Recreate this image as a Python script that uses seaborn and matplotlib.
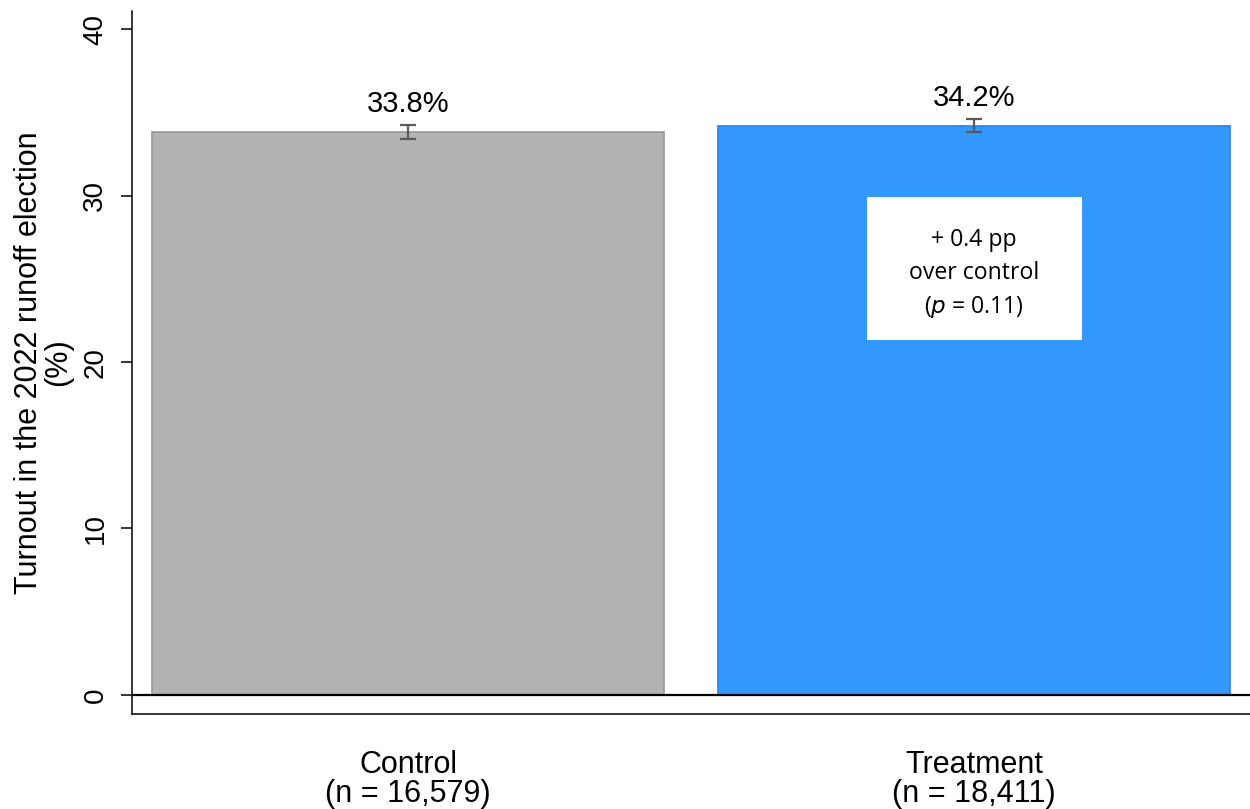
import matplotlib
matplotlib.use("Agg")
import matplotlib.pyplot as plt
import seaborn as sns
import pandas as pd
from matplotlib.patches import Rectangle

categories = ["Control", "Treatment"]
sample_sizes = ["16,579", "18,411"]
turnout = [33.8, 34.2]
ci_half = [0.42, 0.40]
bar_colors = ["#b3b3b3", "#3399ff"]
edge_colors = ["#9a9a9a", "#1f85ec"]
yticks = [0, 10, 20, 30, 40]
annotation_lines = ["+ 0.4 pp", "over control", "($\\it{p}$ = 0.11)"]

sns.set_theme(style="white")
plt.rcParams['font.family'] = ['Liberation Sans', 'DejaVu Sans']
plt.rcParams.update({"text.color": "black", "axes.labelcolor": "black",
                     "xtick.color": "black", "ytick.color": "black"})

df = pd.DataFrame({"group": categories, "turnout": turnout})

fig = plt.figure(figsize=(12.5, 8.09), dpi=100)
ax = fig.add_axes([0.1056, 0.1174, 0.8944, 0.869])

sns.barplot(data=df, x="group", y="turnout", hue="group", palette=bar_colors,
            width=0.906, legend=False, ax=ax, errorbar=None, saturation=1)
for patch, ec in zip(ax.patches, edge_colors):
    patch.set_edgecolor(ec)
    patch.set_linewidth(1.2)

ax.errorbar(range(len(categories)), turnout, yerr=ci_half, fmt="none",
            ecolor="#5a5a5a", elinewidth=1.6, capsize=6, capthick=1.6, zorder=5)

for i, v in enumerate(turnout):
    ax.text(i, v + ci_half[i] + 0.45, f"{v:.1f}%", ha="center", va="bottom", fontsize=21)

ax.axhline(0, color="black", lw=1.6, zorder=6)

# annotation box
ax.add_patch(Rectangle((0.811, 21.35), 0.38, 8.55, facecolor="white", edgecolor="none", zorder=7))
ax.text(1.0, 25.3, "\n".join(annotation_lines), ha="center", va="center",
        fontsize=16.6, family=["Open Sans", "DejaVu Sans"], linespacing=1.47, zorder=8)

ax.set_xlim(-0.488, 1.488)
ax.set_ylim(-1.15, 41.1)
ax.set_yticks(yticks)
ax.set_yticklabels([str(t) for t in yticks], rotation=90, va="center", fontsize=20)
ax.set_xticks(range(len(categories)))
ax.set_xticklabels([f"{c}\n(n = {n})" for c, n in zip(categories, sample_sizes)],
                   fontsize=22, linespacing=0.95)
ax.tick_params(axis="x", length=0, pad=26)
ax.tick_params(axis="y", length=8, width=1.1, pad=9, left=True, color="black")
ax.set_xlabel("")
ax.set_ylabel("Turnout in the 2022 runoff election\n(%)", fontsize=22, labelpad=7,
              linespacing=0.95)

for s in ["top", "right"]:
    ax.spines[s].set_visible(False)
for s in ["left", "bottom"]:
    ax.spines[s].set_color("black")
    ax.spines[s].set_linewidth(1.1)

fig.savefig("out.png", dpi=100)
